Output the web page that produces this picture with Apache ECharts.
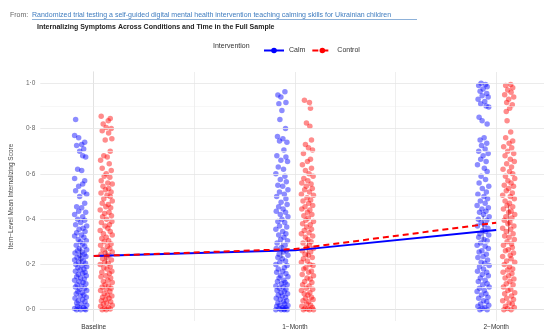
<!DOCTYPE html>
<html>
<head>
<meta charset="utf-8">
<script src="https://cdn.jsdelivr.net/npm/echarts@6/dist/echarts.min.js"></script>
<style>
  html, body { margin: 0; padding: 0; background: #fff; }
  #chart { width: 544px; height: 331px; }
</style>
</head>
<body>
<div id="chart"></div>
<script>
const CALM_COLOR = "#0000ff";
const CONTROL_COLOR = "#ff0000";
const FONT = "Liberation Sans, Arial, sans-serif";

const timepoints = ["Baseline", "1\u2212Month", "2\u2212Month"];
const yTicks = [0, 0.2, 0.4, 0.6, 0.8, 1.0];

// means joined by the lines (at the time point itself)
const calmMeans = [0.237, 0.262, 0.352];
const controlMeans = [0.237, 0.268, 0.384];

// interval bars drawn at the dodged positions: [time index, low, high]
const calmIntervals = [[0, 0.205, 0.275], [1, 0.228, 0.300], [2, 0.305, 0.415]];
const controlIntervals = [[0, 0.205, 0.272], [1, 0.232, 0.310], [2, 0.335, 0.460]];

// individual scores: [jitter, score]
const calmBaseline = [[-.025,.84],[-.03,.77],[-.01,.76],[.02,.74],[.005,.73],[-.02,.725],[.015,.71],[-.005,.70],[.01,.68],[.025,.675],[-.015,.62],[.005,.615],[-.03,.58],[.02,.57],[.01,.555],[-.01,.545],[-.025,.525],[.015,.52],[.03,.51],[-.005,.50],[.02,.47],[-.02,.455],[.005,.45],[-.01,.435],[.025,.43],[-.03,.42],[.01,.41],[-.015,.40],[.02,.395],[0,.385],[-.025,.375],[.03,.37],[.012,.36],[-.008,.355],[.022,.345],[-.02,.34],[.004,.33],[-.03,.325],[.016,.32],[-.012,.31],[.028,.305],[-.002,.30],[.01,.29],[-.022,.285],[.02,.28],[-.006,.27],[.03,.265],[-.016,.26],[.008,.255],[-.028,.25],[.018,.245],[-.004,.24],[.026,.235],[-.018,.23],[.002,.225],[-.03,.22],[.014,.215],[-.01,.21],[.024,.205],[-.024,.20],[.006,.195],[.03,.19],[-.014,.185],[.016,.18],[-.002,.175],[-.026,.17],[.022,.165],[.01,.16],[-.012,.155],[.028,.15],[-.02,.145],[0,.14],[.018,.135],[-.03,.13],[-.008,.125],[.012,.12],[.026,.115],[-.018,.11],[.004,.105],[-.026,.10],[.02,.095],[-.006,.09],[.03,.085],[-.014,.08],[.008,.075],[-.022,.07],[.016,.065],[-.002,.06],[.028,.055],[-.028,.05],[.01,.045],[-.012,.04],[.022,.035],[-.02,.03],[.004,.025],[.03,.02],[-.016,.015],[.014,.01],[-.006,.008],[-.03,.005],[.02,.003],[0,0],[-.02,0],[.025,0]];

const controlBaseline = [[-.025,.855],[.02,.845],[.01,.835],[-.015,.82],[0,.805],[.025,.80],[-.02,.79],[.012,.78],[.028,.755],[-.005,.75],[.02,.70],[-.012,.68],[.005,.675],[-.028,.66],[.015,.645],[-.02,.625],[.025,.615],[0,.60],[-.01,.59],[.018,.585],[-.025,.57],[.008,.56],[.03,.555],[-.016,.545],[.012,.535],[-.004,.53],[.024,.52],[-.026,.515],[.004,.505],[.02,.50],[-.012,.49],[.03,.48],[-.02,.47],[.01,.465],[-.002,.455],[.022,.45],[-.03,.44],[.014,.43],[-.008,.425],[.026,.415],[-.018,.41],[.002,.40],[.028,.39],[-.024,.385],[.016,.375],[-.006,.37],[.008,.36],[-.03,.35],[.02,.345],[-.014,.335],[.03,.33],[0,.32],[-.022,.315],[.012,.305],[-.01,.30],[.024,.29],[-.028,.285],[.006,.28],[.018,.27],[-.016,.265],[.03,.255],[-.004,.25],[-.026,.245],[.014,.24],[.002,.23],[-.018,.225],[.026,.22],[-.008,.21],[.01,.205],[-.03,.20],[.02,.19],[-.012,.185],[.004,.18],[.028,.17],[-.022,.165],[.016,.16],[-.002,.15],[-.026,.145],[.022,.14],[.008,.13],[-.014,.125],[.03,.12],[-.006,.11],[.012,.105],[-.02,.10],[.024,.095],[0,.09],[-.028,.085],[.018,.08],[-.01,.07],[.006,.065],[.028,.06],[-.018,.055],[.014,.05],[-.004,.045],[-.024,.04],[.022,.035],[.002,.03],[-.014,.025],[.03,.02],[-.028,.015],[.01,.01],[-.008,.006],[.02,.003],[0,0],[-.02,0]];

const calmMonth1 = [[.015,.963],[-.02,.948],[-.005,.94],[.02,.915],[-.015,.91],[0,.88],[-.01,.84],[.018,.80],[-.022,.765],[.005,.755],[-.012,.745],[.025,.74],[.01,.705],[-.025,.68],[.02,.675],[-.005,.66],[.028,.655],[-.018,.63],[.008,.62],[-.03,.60],[.015,.59],[-.008,.575],[.022,.565],[-.02,.55],[.004,.545],[.03,.53],[-.012,.52],[.012,.51],[-.026,.50],[.02,.49],[-.004,.475],[.026,.465],[-.016,.455],[.006,.445],[-.028,.435],[.018,.43],[-.008,.42],[.03,.41],[0,.40],[-.02,.39],[.014,.385],[-.012,.37],[.024,.365],[-.03,.355],[.004,.345],[.02,.335],[-.016,.33],[.01,.32],[-.006,.31],[.028,.305],[-.024,.295],[.016,.285],[-.002,.275],[-.028,.27],[.022,.26],[.008,.255],[-.014,.245],[.03,.24],[-.02,.23],[.002,.225],[.018,.215],[-.01,.21],[-.03,.20],[.026,.195],[.012,.185],[-.018,.18],[.004,.17],[-.026,.165],[.02,.16],[-.006,.15],[.03,.145],[-.014,.14],[.01,.13],[-.022,.125],[.016,.12],[-.002,.115],[.026,.11],[-.03,.105],[.006,.10],[-.012,.095],[.02,.09],[-.024,.085],[.012,.08],[-.004,.075],[.028,.07],[-.018,.065],[.002,.06],[.018,.055],[-.028,.05],[-.008,.045],[.024,.04],[.008,.035],[-.02,.03],[.014,.025],[-.01,.02],[.03,.018],[-.026,.015],[.004,.01],[.02,.008],[-.014,.005],[.01,.003],[-.03,0],[-.004,0],[.026,0],[.012,0]];

const controlMonth1 = [[-.015,.925],[.01,.915],[.015,.89],[-.005,.825],[.012,.81],[.02,.75],[-.01,.73],[.005,.715],[.025,.705],[-.02,.69],[.015,.665],[0,.655],[-.025,.64],[.02,.625],[-.01,.615],[.008,.60],[.028,.59],[-.018,.58],[.002,.57],[-.028,.56],[.018,.555],[-.006,.545],[.024,.535],[-.014,.53],[.01,.52],[-.03,.51],[.03,.505],[-.002,.495],[.016,.485],[-.022,.48],[.006,.47],[.026,.46],[-.012,.455],[-.028,.445],[.012,.44],[0,.43],[.022,.42],[-.018,.415],[.004,.405],[-.008,.395],[.03,.39],[-.024,.38],[.014,.375],[-.004,.365],[.02,.355],[-.016,.35],[.008,.34],[-.03,.335],[.026,.325],[-.01,.32],[.002,.31],[.018,.30],[-.022,.295],[.01,.285],[-.006,.275],[.03,.27],[-.026,.26],[.016,.255],[-.012,.245],[.004,.24],[.024,.23],[-.02,.225],[0,.215],[-.03,.21],[.012,.20],[.028,.195],[-.008,.185],[-.018,.18],[.02,.17],[.006,.165],[-.026,.155],[.03,.15],[-.002,.14],[.014,.135],[-.014,.125],[.022,.12],[-.024,.11],[.008,.105],[-.006,.095],[.026,.09],[-.03,.085],[.012,.075],[-.016,.07],[.002,.065],[.02,.055],[-.01,.05],[.028,.045],[-.022,.04],[.006,.035],[-.004,.025],[.016,.02],[-.028,.015],[.024,.01],[-.012,.006],[0,.003],[.03,0],[-.02,0],[.01,0]];

const calmMonth2 = [[-.01,1.0],[.012,.995],[-.022,.99],[.02,.985],[0,.975],[-.015,.965],[.018,.955],[-.005,.945],[.025,.94],[-.025,.93],[.008,.92],[-.012,.91],[.015,.90],[.028,.895],[-.02,.85],[-.005,.835],[.02,.82],[.005,.76],[-.015,.75],[.018,.735],[-.008,.725],[.01,.71],[-.022,.70],[.025,.69],[0,.68],[-.012,.665],[.015,.655],[-.028,.64],[.006,.625],[.02,.61],[-.01,.59],[.012,.575],[-.02,.56],[.028,.545],[-.004,.535],[.016,.52],[-.026,.51],[.004,.50],[.022,.49],[-.014,.48],[.01,.47],[-.03,.46],[.026,.45],[-.006,.445],[.014,.435],[-.018,.43],[.002,.42],[.03,.41],[-.024,.40],[.018,.395],[-.01,.385],[.006,.375],[-.028,.37],[.024,.36],[-.002,.35],[.012,.345],[-.016,.335],[.028,.33],[-.022,.32],[.004,.31],[.02,.305],[-.012,.295],[-.03,.285],[.01,.28],[.026,.27],[-.006,.26],[-.02,.255],[.016,.245],[0,.235],[-.026,.23],[.022,.22],[-.01,.21],[.008,.205],[.03,.195],[-.018,.19],[.002,.18],[-.028,.17],[.018,.165],[-.004,.155],[.026,.15],[-.014,.14],[.01,.13],[-.024,.125],[.02,.115],[-.002,.11],[.03,.10],[-.018,.095],[.006,.085],[-.03,.08],[.014,.07],[-.008,.065],[.024,.055],[-.022,.05],[.002,.04],[.018,.035],[-.012,.025],[.028,.02],[-.026,.015],[.008,.01],[-.004,.005],[.02,0],[-.016,0]];

const controlMonth2 = [[.01,.995],[-.015,.99],[.02,.98],[-.005,.97],[.012,.96],[-.02,.95],[.025,.94],[0,.93],[-.01,.915],[.018,.905],[.005,.89],[-.012,.875],[-.008,.835],[.01,.785],[-.015,.76],[.02,.745],[.002,.735],[-.025,.72],[.015,.715],[-.005,.70],[.025,.69],[-.018,.68],[.008,.665],[.028,.655],[-.01,.645],[.014,.63],[-.028,.62],[.004,.61],[.02,.60],[-.016,.59],[.03,.58],[-.004,.57],[.012,.56],[-.022,.55],[.024,.545],[0,.535],[-.012,.525],[.018,.515],[-.03,.505],[.008,.50],[.028,.49],[-.018,.48],[.004,.47],[-.008,.46],[.02,.455],[-.026,.445],[.012,.435],[0,.43],[.03,.42],[-.014,.41],[.016,.405],[-.022,.395],[.006,.385],[-.004,.38],[.026,.37],[-.03,.36],[.01,.355],[-.012,.345],[.022,.335],[-.02,.325],[.002,.32],[.028,.31],[-.008,.30],[.014,.29],[-.026,.285],[.018,.275],[-.002,.265],[-.016,.26],[.024,.25],[.008,.24],[-.03,.235],[.012,.225],[-.01,.215],[.03,.21],[-.022,.20],[.004,.19],[.02,.18],[-.006,.175],[-.028,.165],[.016,.16],[0,.15],[-.018,.14],[.026,.135],[.006,.125],[-.012,.115],[.022,.11],[-.026,.10],[.01,.09],[-.004,.085],[.03,.075],[-.02,.07],[.014,.06],[-.01,.05],[.024,.045],[-.03,.04],[.002,.03],[.018,.025],[-.016,.015],[.028,.01],[-.006,.005],[.012,0],[-.024,0]];

const calmScores = [calmBaseline, calmMonth1, calmMonth2];
const controlScores = [controlBaseline, controlMonth1, controlMonth2];

const CALM_DODGE = -0.065;
const CONTROL_DODGE = 0.062;

function placePoints(groups, dodge) {
  const out = [];
  groups.forEach((pts, t) => {
    pts.forEach(([jit, y]) => out.push([t + dodge + jit, y]));
  });
  return out;
}

function intervalSeries(name, intervals, dodge, color) {
  return {
    name: name,
    type: "custom",
    z: 4,
    silent: true,
    data: intervals.map(([t, lo, hi]) => [t + dodge, lo, hi]),
    renderItem: (params, api) => {
      const top = api.coord([api.value(0), api.value(2)]);
      const bottom = api.coord([api.value(0), api.value(1)]);
      return {
        type: "line",
        shape: { x1: top[0], y1: top[1], x2: bottom[0], y2: bottom[1] },
        style: { stroke: color, lineWidth: 1.2, opacity: 0.5 },
      };
    },
  };
}

const majorY = [0, 0.2, 0.4, 0.6, 0.8, 1.0];
const minorY = [0.1, 0.3, 0.5, 0.7, 0.9];
const majorX = [0, 1, 2];
const minorX = [0.5, 1.5];

const chart = echarts.init(document.getElementById("chart"), null, { renderer: "canvas" });

const gridLines = []
  .concat(minorY.map((v) => ({ yAxis: v, lineStyle: { color: "#f2f2f2", width: 0.6, type: "solid" } })))
  .concat(minorX.map((v) => ({ xAxis: v, lineStyle: { color: "#ebebeb", width: 0.8, type: "solid" } })))
  .concat(majorY.map((v) => ({ yAxis: v, lineStyle: { color: "#e6e6e6", width: 0.8, type: "solid" } })))
  .concat(majorX.map((v) => ({ xAxis: v, lineStyle: { color: "#e6e6e6", width: 0.8, type: "solid" } })));

chart.setOption({
  animation: false,
  textStyle: { fontFamily: FONT },
  grid: { left: 38, right: 0, top: 72, bottom: 9 },
  legend: {
    data: ["Calm", "Control"],
    left: 258,
    top: 42,
    itemWidth: 20,
    itemHeight: 7,
    itemGap: 6,
    textStyle: { fontSize: 7, color: "#333", fontFamily: FONT },
  },
  graphic: [
    {
      type: "text", left: 10, top: 12,
      style: { text: "From:", fontSize: 7, fill: "#666", fontFamily: FONT },
    },
    {
      type: "text", left: 32, top: 12,
      style: {
        text: "Randomized trial testing a self-guided digital mental health intervention teaching calming skills for Ukrainian children",
        fontSize: 7, fill: "#3f7cbf", fontFamily: FONT,
      },
    },
    {
      type: "line",
      shape: { x1: 32, y1: 19.5, x2: 417, y2: 19.5 },
      style: { stroke: "#3f7cbf", lineWidth: 0.6 },
    },
    {
      type: "text", left: 37, top: 24,
      style: {
        text: "Internalizing Symptoms Across Conditions and Time in the Full Sample",
        fontSize: 7, fontWeight: "bold", fill: "#222", fontFamily: FONT,
      },
    },
    {
      type: "text", left: 213, top: 42.5,
      style: { text: "Intervention", fontSize: 7, fill: "#333", fontFamily: FONT },
    },
  ],
  xAxis: {
    type: "value",
    min: -0.2656,
    max: 2.2375,
    splitLine: { show: false },
    axisTick: { show: false },
    axisLine: { show: true, lineStyle: { color: "#d4d4d4", width: 1 } },
    axisLabel: {
      customValues: majorX,
      margin: 3,
      fontSize: 6.5,
      color: "#333",
      formatter: (v) => timepoints[Math.round(v)] || "",
    },
  },
  yAxis: {
    type: "value",
    min: -0.05,
    max: 1.05,
    name: "Item\u2212Level Mean Internalizing Score",
    nameLocation: "middle",
    nameGap: 25,
    nameTextStyle: { fontSize: 6.5, color: "#444", fontFamily: FONT },
    splitLine: { show: false },
    axisTick: { show: false },
    axisLine: { show: true, lineStyle: { color: "#d4d4d4", width: 1 } },
    axisLabel: {
      customValues: yTicks,
      margin: 5,
      fontSize: 6.5,
      color: "#666",
      formatter: (v) => v.toFixed(1).replace(".", "\u00b7"),
    },
  },
  series: [
    {
      name: "grid",
      type: "scatter",
      data: [],
      z: 1,
      silent: true,
      markLine: {
        silent: true,
        symbol: "none",
        label: { show: false },
        animation: false,
        data: gridLines,
      },
    },
    {
      name: "Calm points",
      type: "scatter",
      z: 2,
      clip: false,
      symbolSize: 5.5,
      itemStyle: { color: CALM_COLOR, opacity: 0.45 },
      data: placePoints(calmScores, CALM_DODGE),
    },
    {
      name: "Control points",
      type: "scatter",
      z: 2,
      clip: false,
      symbolSize: 5.5,
      itemStyle: { color: CONTROL_COLOR, opacity: 0.45 },
      data: placePoints(controlScores, CONTROL_DODGE),
    },
    intervalSeries("Calm interval", calmIntervals, CALM_DODGE, "#00009a"),
    intervalSeries("Control interval", controlIntervals, CONTROL_DODGE, "#b00000"),
    {
      name: "Calm",
      type: "line",
      z: 5,
      symbol: "circle",
      symbolSize: 6,
      showSymbol: false,
      color: CALM_COLOR,
      lineStyle: { color: CALM_COLOR, width: 2 },
      data: calmMeans.map((v, i) => [i, v]),
    },
    {
      name: "Control",
      type: "line",
      z: 6,
      symbol: "circle",
      symbolSize: 6,
      showSymbol: false,
      color: CONTROL_COLOR,
      lineStyle: { color: CONTROL_COLOR, width: 2, type: [6, 4] },
      data: controlMeans.map((v, i) => [i, v]),
    },
  ],
});
</script>
</body>
</html>
